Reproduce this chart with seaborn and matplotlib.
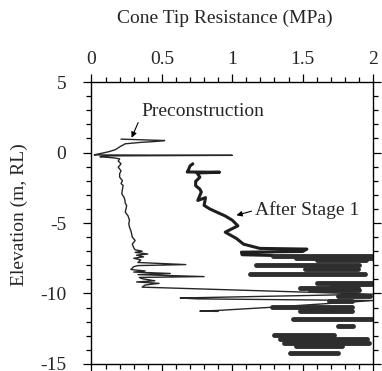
import matplotlib
matplotlib.use("Agg")
import matplotlib.pyplot as plt
from matplotlib.ticker import MultipleLocator
import seaborn as sns
import pandas as pd

# Preconstruction cone tip resistance profile (elevation in m RL, qc in MPa)
pre_elev = [0.95, 0.92, 0.85, 0.78, 0.72, 0.62, 0.40, 0.20, 0.05, -0.08, -0.14, -0.17, -0.20,
            -0.24, -0.30, -0.38, -0.45, -0.60, -0.80, -1.04, -1.30, -1.50, -1.75, -2.00, -2.20,
            -2.34, -2.60, -2.93, -3.15, -3.40, -3.60, -3.76, -4.00, -4.23, -4.50, -4.82, -5.05,
            -5.30, -5.55, -5.77, -6.00, -6.24, -6.50, -6.75, -6.90, -7.00, -7.08, -7.20, -7.28,
            -7.40, -7.50, -7.62, -7.80, -7.95, -8.02, -8.10, -8.30, -8.40, -8.48, -8.58, -8.66,
            -8.80, -8.86, -8.95, -9.10, -9.18, -9.28, -9.40, -9.55, -10.05, -10.32, -10.38,
            -10.50, -10.97, -11.20, -11.25, -11.27]
pre_qc = [0.21, 0.30, 0.52, 0.45, 0.35, 0.24, 0.20, 0.17, 0.12, 0.06, 0.03, 0.02, 1.00,
          0.10, 0.06, 0.16, 0.20, 0.19, 0.21, 0.19, 0.21, 0.20, 0.20, 0.22, 0.21,
          0.225, 0.22, 0.215, 0.23, 0.238, 0.24, 0.25, 0.245, 0.24, 0.26, 0.27, 0.265,
          0.27, 0.28, 0.285, 0.29, 0.31, 0.29, 0.30, 0.31, 0.36, 0.31, 0.40, 0.32,
          0.37, 0.30, 0.35, 0.33, 0.67, 0.33, 0.30, 0.28, 0.38, 0.30, 0.56, 0.33,
          0.80, 0.34, 0.36, 0.45, 0.32, 0.48, 0.38, 0.36, 2.00, 0.63, 0.75,
          2.00, 1.29, 0.90, 0.77, 0.90]

# After Stage 1 profile: continuous trace down to about -7 m
st1_elev = [-0.80, -0.95, -1.20, -1.38, -1.40, -1.45, -1.75, -2.05, -2.35, -2.60, -2.80,
            -3.40, -3.20, -3.75, -4.00, -4.23, -4.50, -4.80, -5.20, -5.65, -6.10, -6.50,
            -6.80, -6.85, -7.02, -7.07, -7.25, -7.30]
st1_qc = [0.72, 0.70, 0.69, 0.68, 0.91, 0.75, 0.77, 0.74, 0.74, 0.77, 0.78,
          0.755, 0.81, 0.80, 0.84, 0.89, 0.95, 1.00, 1.04, 0.95, 1.03, 1.08,
          1.195, 1.53, 1.50, 1.065, 1.07, 1.29]

# After Stage 1 spikes below -7 m: elevation, left and right qc of each spike
spike_elev = [-7.35, -7.48, -7.60, -7.95, -8.25, -8.65, -9.25, -9.36, -9.62, -9.75,
              -10.20, -10.55, -10.95, -11.25, -11.80, -12.30, -12.95, -13.20, -13.50,
              -13.70, -14.20]
spike_lo = [1.29, 1.45, 1.60, 1.17, 1.52, 1.125, 1.60, 1.70, 1.48, 1.55,
            1.75, 1.69, 1.28, 1.48, 1.43, 1.75, 1.30, 1.34, 1.37,
            1.45, 1.41]
spike_hi = [2.02, 2.02, 1.95, 1.90, 1.89, 1.94, 2.02, 2.00, 1.89, 1.90,
            1.98, 1.85, 1.85, 1.85, 2.00, 1.86, 1.72, 1.96, 1.97,
            1.78, 1.75]

x_ticks = [0, 0.5, 1, 1.5, 2]
y_ticks = [5, 0, -5, -10, -15]

pre = pd.DataFrame({"qc": pre_qc, "elev": pre_elev})
st1 = pd.DataFrame({"qc": st1_qc, "elev": st1_elev})
spikes = pd.DataFrame({
    "qc": [v for pair in zip(spike_lo, spike_hi) for v in pair],
    "elev": [e for e in spike_elev for _ in range(2)],
    "spike": [i for i in range(len(spike_elev)) for _ in range(2)],
})

sns.set_theme(style="ticks")
plt.rcParams["font.family"] = ["Liberation Serif", "DejaVu Serif"]
plt.rcParams["axes.unicode_minus"] = False

fig = plt.figure(figsize=(3.82, 3.71), dpi=100)
ax = fig.add_axes([0.2395, 0.0189, 0.737, 0.760])

sns.lineplot(data=pre, x="qc", y="elev", sort=False, estimator=None,
             color="#262626", lw=1.0, ax=ax)
sns.lineplot(data=st1, x="qc", y="elev", sort=False, estimator=None,
             color="#1e1e1e", lw=2.2, ax=ax)
sns.lineplot(data=spikes, x="qc", y="elev", units="spike", sort=False,
             estimator=None, color="#2e2e2e", lw=3.5, ax=ax)

ax.set_xlim(0, 2)
ax.set_ylim(-15, 5)
ax.set_xticks(x_ticks)
ax.set_xticklabels([f"{t:g}" for t in x_ticks])
ax.set_yticks(y_ticks)
ax.set_yticklabels([f"{t:g}" for t in y_ticks])
ax.xaxis.set_minor_locator(MultipleLocator(0.1))
ax.yaxis.set_minor_locator(MultipleLocator(1))

ax.tick_params(which="both", direction="out", color="black", width=0.9,
               top=True, bottom=True, left=True, right=True,
               labeltop=True, labelbottom=False, labelsize=14)
ax.tick_params(which="major", length=6)
ax.tick_params(which="minor", length=3.5)
ax.tick_params(axis="y", which="major", pad=12)
ax.tick_params(axis="x", which="major", pad=4)
for s in ax.spines.values():
    s.set_visible(True)
    s.set_color("black")
    s.set_linewidth(1.0)

ax.xaxis.set_label_position("top")
ax.set_xlabel("Cone Tip Resistance (MPa)", fontsize=14)
ax.xaxis.set_label_coords(0.475, 1.21)
ax.set_ylabel("Elevation (m, RL)", fontsize=14)
ax.yaxis.set_label_coords(-0.226, 0.53)

ax.annotate("Preconstruction", xy=(0.285, 1.05), xytext=(0.355, 2.9),
            fontsize=14, ha="left", va="center",
            arrowprops=dict(arrowstyle="-|>", color="black", lw=0.8,
                            mutation_scale=8, shrinkA=0, shrinkB=0,
                            relpos=(0.0, 0.3)))
ax.annotate("After Stage 1", xy=(1.03, -4.45), xytext=(1.16, -4.1),
            fontsize=14, ha="left", va="center",
            arrowprops=dict(arrowstyle="-|>", color="black", lw=0.8,
                            mutation_scale=8, shrinkA=0, shrinkB=0,
                            relpos=(0.0, 0.5)))

fig.savefig("out.png", dpi=100)
